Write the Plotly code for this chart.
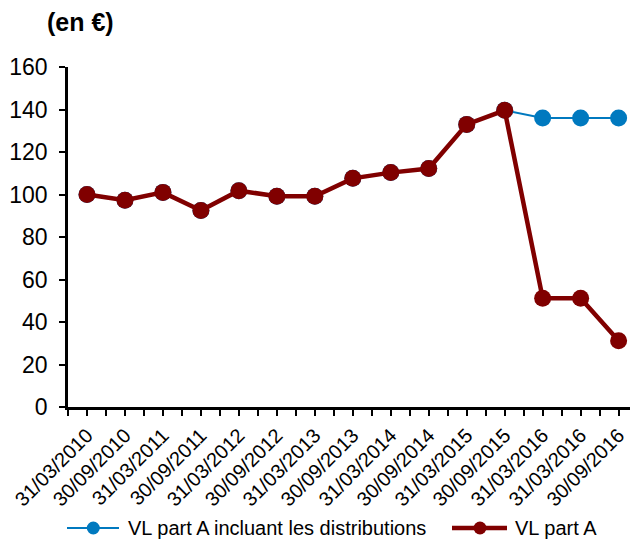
import plotly.graph_objects as go

dates = ["31/03/2010", "30/09/2010", "31/03/2011", "30/09/2011", "31/03/2012",
         "30/09/2012", "31/03/2013", "30/09/2013", "31/03/2014", "30/09/2014",
         "31/03/2015", "30/09/2015", "31/03/2016", "31/03/2016", "30/09/2016"]
vl_part_a = [100, 97.3, 101, 92.5, 101.8, 99.2, 99.2, 107.6, 110.3, 112.2,
             133, 139.6, 51.2, 51.2, 31.2]
vl_incl_distrib = [100, 97.3, 101, 92.5, 101.8, 99.2, 99.2, 107.6, 110.3, 112.2,
                   133, 139.6, 136, 136, 136]
y_ticks = [0, 20, 40, 60, 80, 100, 120, 140, 160]
series_names = ["VL part A incluant les distributions", "VL part A"]
series_colors = ["#0079BF", "#800000"]
series_widths = [2, 4.5]

x_pos = list(range(len(dates)))
font_family = "Liberation Sans, Arial, sans-serif"

W, H = 630, 541
L, R, T, B = 68, 0, 67, 134
PW, PH = W - L - R, H - T - B


def px_x(p):
    return (p - L) / PW


def px_y(p):
    return (H - B - p) / PH


fig = go.Figure()
for vals, name, col, lw in zip([vl_incl_distrib, vl_part_a], series_names,
                               series_colors, series_widths):
    fig.add_trace(go.Scatter(
        x=x_pos, y=vals, name=name, mode="lines+markers",
        line=dict(color=col, width=lw), marker=dict(color=col, size=17),
        cliponaxis=False, showlegend=False))

# custom legend (swatch line + dot + label), positioned like the reference
shapes = []
annotations = []
leg_y = 528
leg_items = [(67, 119, 93.3, 126), (452, 507, 480, 513)]
for (lx0, lx1, mx, tx), name, col, lw in zip(leg_items, series_names,
                                             series_colors, series_widths):
    shapes.append(dict(type="line", xref="paper", yref="paper",
                       x0=px_x(lx0), x1=px_x(lx1), y0=px_y(leg_y), y1=px_y(leg_y),
                       line=dict(color=col, width=lw)))
    shapes.append(dict(type="circle", xref="paper", yref="paper",
                       xsizemode="pixel", ysizemode="pixel",
                       xanchor=px_x(mx), yanchor=px_y(leg_y),
                       x0=-6.5, x1=6.5, y0=-6.5, y1=6.5,
                       fillcolor=col, line=dict(color=col, width=0)))
    annotations.append(dict(text=name, xref="paper", yref="paper",
                            x=px_x(tx), y=px_y(leg_y), xanchor="left", yanchor="middle",
                            showarrow=False, font=dict(size=20)))

annotations.append(dict(text="<b>(en €)</b>", xref="paper", yref="paper",
                        x=px_x(45), y=px_y(22), xanchor="left", yanchor="middle",
                        showarrow=False, font=dict(size=25)))

fig.update_layout(
    width=W, height=H,
    margin=dict(l=L, r=R, t=T, b=B, autoexpand=False),
    plot_bgcolor="white", paper_bgcolor="white",
    font=dict(family=font_family, color="black"),
    showlegend=False,
    shapes=shapes,
    annotations=annotations,
)
fig.update_xaxes(
    range=[-0.5, 14.30], automargin=False,
    tickmode="array", tickvals=x_pos, ticktext=dates, tickangle=-45,
    ticks="outside", ticklen=6, tickwidth=2, tickcolor="black",
    showline=True, linecolor="black", linewidth=2.5,
    showgrid=False, zeroline=False,
    tickfont=dict(size=20),
    minor=dict(tickmode="array", tickvals=[i - 0.5 for i in range(len(dates) + 1)],
               ticks="outside", ticklen=6, tickwidth=2, tickcolor="black", showgrid=False),
)
fig.update_yaxes(
    range=[0, 160], tickmode="array", tickvals=y_ticks, automargin=False,
    ticks="outside", ticklen=6, tickwidth=2, tickcolor="black",
    showline=True, linecolor="black", linewidth=2.5,
    showgrid=False, zeroline=False,
    tickfont=dict(size=23), ticklabelstandoff=7,
)

fig.write_html("out.html",
               config={"displayModeBar": False},
               post_script="document.body.style.margin='0';"
                           "document.body.style.overflow='hidden';")
